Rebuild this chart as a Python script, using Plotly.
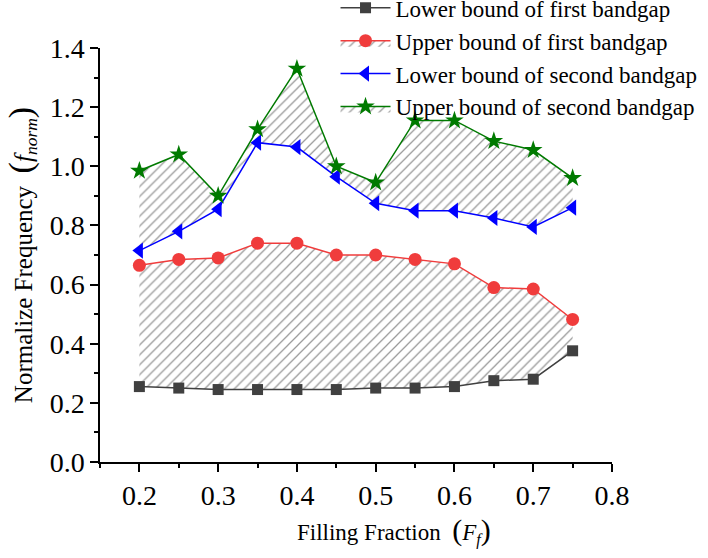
import plotly.graph_objects as go

filling = [0.2, 0.25, 0.3, 0.35, 0.4, 0.45, 0.5, 0.55, 0.6, 0.65, 0.7, 0.75]
lower_first = [0.255, 0.25, 0.245, 0.245, 0.245, 0.245, 0.25, 0.25, 0.255, 0.275, 0.28, 0.376]
upper_first = [0.665, 0.685, 0.69, 0.74, 0.74, 0.70, 0.70, 0.685, 0.67, 0.59, 0.585, 0.482]
lower_second = [0.715, 0.78, 0.855, 1.08, 1.065, 0.965, 0.875, 0.85, 0.85, 0.825, 0.795, 0.86]
upper_second = [0.985, 1.04, 0.90, 1.125, 1.33, 1.0, 0.945, 1.155, 1.155, 1.085, 1.055, 0.96]

names = ["Lower bound of first bandgap", "Upper bound of first bandgap",
         "Lower bound of second bandgap", "Upper bound of second bandgap"]

FONT = "Liberation Serif, Times New Roman, serif"
hatch = dict(shape="/", fgcolor="#333333", bgcolor="rgba(255,255,255,0)", size=7, solidity=0.18)

fig = go.Figure()
fig.add_trace(go.Scatter(x=filling, y=lower_first, name=names[0], mode="lines+markers",
                         line=dict(color="#404040", width=1.5),
                         marker=dict(symbol="square", size=11, color="#404040")))
fig.add_trace(go.Scatter(x=filling, y=upper_first, name=names[1], mode="lines+markers",
                         line=dict(color="#f03c3c", width=1.5),
                         marker=dict(symbol="circle", size=13, color="#f03c3c"),
                         fill="tonexty", fillcolor="rgba(0,0,0,0)", fillpattern=hatch))
fig.add_trace(go.Scatter(x=filling, y=lower_second, name=names[2], mode="lines+markers",
                         line=dict(color="#0000ff", width=1.5),
                         marker=dict(symbol="triangle-left", size=14, color="#0000ff")))
fig.add_trace(go.Scatter(x=filling, y=upper_second, name=names[3], mode="lines+markers",
                         line=dict(color="#007a00", width=1.5),
                         marker=dict(symbol="star", size=14, color="#007a00"),
                         fill="tonexty", fillcolor="rgba(0,0,0,0)", fillpattern=hatch))

fig.update_layout(
    width=708, height=558,
    margin=dict(l=100, r=96, t=48, b=96, autoexpand=False),
    paper_bgcolor="white", plot_bgcolor="white",
    font=dict(family=FONT, color="black"),
    showlegend=True,
    legend=dict(x=0.46, y=1.149, xanchor="left", yanchor="top", traceorder="normal",
                font=dict(size=23, family=FONT), bgcolor="rgba(0,0,0,0)",
                itemwidth=50, tracegroupgap=0),
    xaxis=dict(range=[0.15, 0.8], dtick=0.1, tick0=0, tickformat=".1f",
               showline=True, linecolor="black", linewidth=1.5, showgrid=False, zeroline=False,
               ticks="outside", ticklen=8, tickwidth=1.5, tickcolor="black",
               tickfont=dict(size=28, family=FONT),
               minor=dict(dtick=0.05, tick0=0, ticks="outside", ticklen=4, tickwidth=1.5, tickcolor="black", showgrid=False)),
    yaxis=dict(range=[0, 1.4], dtick=0.2, tick0=0, tickformat=".1f",
               showline=True, linecolor="black", linewidth=1.5, showgrid=False, zeroline=False,
               ticks="outside", ticklen=8, tickwidth=1.5, tickcolor="black",
               tickfont=dict(size=28, family=FONT),
               minor=dict(dtick=0.1, tick0=0, ticks="outside", ticklen=4, tickwidth=1.5, tickcolor="black", showgrid=False),
               title=dict(text="Normalize Frequency  <span style='font-size:34px'>(</span><i>f</i><sub><i>norm</i></sub><span style='font-size:34px'>)</span>",
                          font=dict(size=25, family=FONT), standoff=10)),
    annotations=[dict(text="Filling Fraction  <span style='font-size:30px'>(</span><i>F</i><sub><i>f</i></sub><span style='font-size:30px'>)</span>",
                      xref="paper", yref="paper", x=0.574, y=-0.166, xanchor="center", yanchor="middle",
                      showarrow=False, font=dict(size=23, family=FONT, color="black"))],
)

fig.write_html("out.html")
